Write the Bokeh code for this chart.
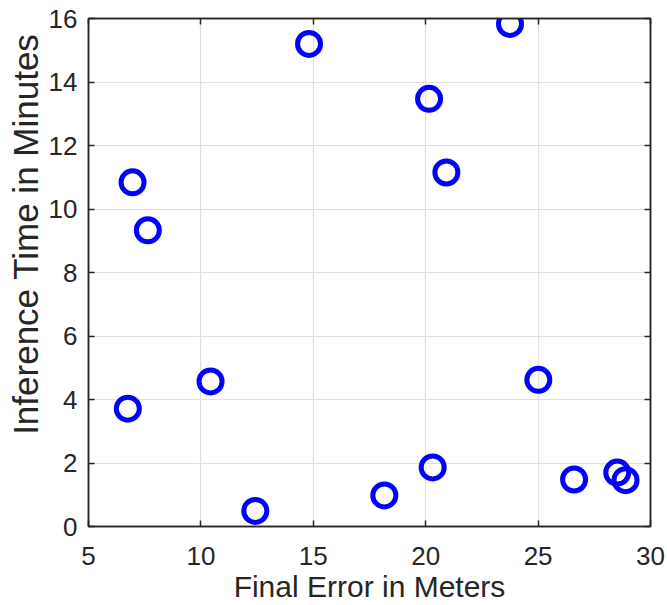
from bokeh.plotting import figure
from bokeh.models import LinearAxis, FixedTicker, Range1d, Title, CustomJSTickFormatter
from bokeh.embed import file_html
from bokeh.resources import INLINE

final_error_m = [6.75, 6.96, 7.64, 10.43, 12.42, 14.81, 18.16, 20.15, 20.31, 20.92, 23.75, 25.01, 26.60, 28.52, 28.89]
inference_min = [3.71, 10.84, 9.33, 4.57, 0.49, 15.20, 0.98, 13.47, 1.86, 11.15, 15.83, 4.62, 1.48, 1.70, 1.46]
x_ticks = [5, 10, 15, 20, 25, 30]
y_ticks = [0, 2, 4, 6, 8, 10, 12, 14, 16]
x_label = "Final Error in Meters"
y_label = "Inference Time in Minutes"

TXT = "#262626"
FONT = "Liberation Sans"

p = figure(width=667, height=605, output_backend="svg", toolbar_location=None,
           x_range=Range1d(5, 30), y_range=Range1d(0, 16),
           min_border_left=88, min_border_right=17, min_border_top=18, min_border_bottom=78)
p.background_fill_color = "white"
p.border_fill_color = "white"
p.outline_line_color = TXT
p.outline_line_width = 1.5

p.xaxis.ticker = FixedTicker(ticks=x_ticks)
p.yaxis.ticker = FixedTicker(ticks=y_ticks)
for ax in (p.xaxis[0], p.yaxis[0]):
    ax.axis_line_color = TXT
    ax.axis_line_width = 1.5
    ax.major_tick_in = 6
    ax.major_tick_out = 0
    ax.minor_tick_line_color = None
    ax.major_tick_line_color = TXT
    ax.major_tick_line_width = 1.5
    ax.major_label_text_font = FONT
    ax.major_label_text_font_size = "26px"
    ax.major_label_text_color = TXT
    ax.axis_label_text_font = FONT
    ax.axis_label_text_font_size = "30px"
    ax.axis_label_text_font_style = "normal"
    ax.axis_label_text_color = TXT
p.xaxis.axis_label = x_label
p.xaxis.major_label_standoff = 20
p.yaxis.major_label_standoff = 11
p.xaxis.axis_label_standoff = 2

p.add_layout(Title(text=y_label, align="right", offset=15, vertical_align="middle",
                   text_font=FONT, text_font_size="35px", text_font_style="normal",
                   text_color=TXT, standoff=0), "left")

blank = CustomJSTickFormatter(code="return ''")
for loc, tk in (("above", x_ticks), ("right", y_ticks)):
    ax = LinearAxis(ticker=FixedTicker(ticks=tk), formatter=blank,
                    axis_line_color=TXT, axis_line_width=1.5, major_tick_in=6, major_tick_out=0,
                    major_tick_line_color=TXT, major_tick_line_width=1.5,
                    minor_tick_line_color=None, major_label_standoff=0)
    p.add_layout(ax, loc)

p.xgrid.ticker = FixedTicker(ticks=x_ticks)
p.ygrid.ticker = FixedTicker(ticks=y_ticks)
p.grid.grid_line_color = "#dfdfdf"
p.grid.grid_line_width = 1.2

p.scatter(final_error_m, inference_min, marker="circle", size=23, fill_color=None,
          line_color="#0000ff", line_width=5)

open("out.html", "w").write(file_html(p, INLINE))
